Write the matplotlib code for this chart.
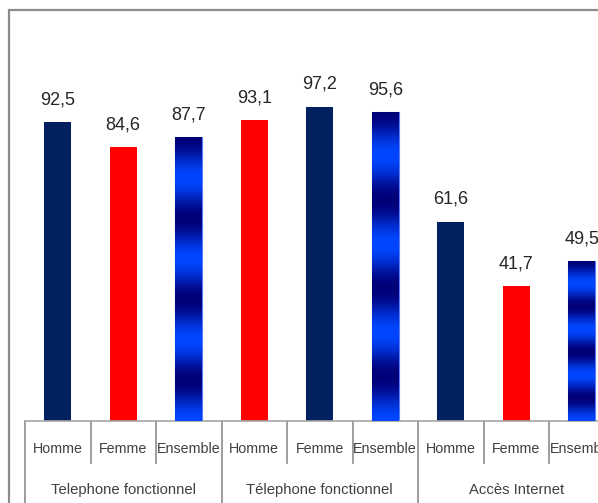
import numpy as np
import matplotlib

matplotlib.use("Agg")
import matplotlib.pyplot as plt
from matplotlib.colors import LinearSegmentedColormap
from matplotlib.patches import Rectangle
from matplotlib.transforms import blended_transform_factory

groups = ["Telephone fonctionnel", "Télephone fonctionnel", "Accès Internet"]
sexes = ["Homme", "Femme", "Ensemble"]
values = [92.5, 84.6, 87.7, 93.1, 97.2, 95.6, 61.6, 41.7, 49.5]
value_labels = ["92,5", "84,6", "87,7", "93,1", "97,2", "95,6", "61,6", "41,7", "49,5"]
bar_styles = ["navy", "red", "grad", "red", "navy", "grad", "navy", "red", "grad"]

NAVY = "#002060"
RED = "#ff0000"
FONT = ["Liberation Sans", "DejaVu Sans"]
stripe_cmap = LinearSegmentedColormap.from_list("stripe", ["#0046ff", "#000078"])

W, H = 598, 503
fig = plt.figure(figsize=(W / 100, H / 100), dpi=100)
fig.patch.set_facecolor("white")

# outer chart border (runs off the right and bottom edges)
fig.patches.append(Rectangle((9 / W, -0.2), 1.2, (H - 10) / H + 0.2,
                             transform=fig.transFigure, fill=False,
                             edgecolor="#8c8c8c", linewidth=1.6))

axis_y = 421
step = 65.5
ax = fig.add_axes([25 / W, (H - axis_y) / H, 9 * step / W, 388 / H])
ax.set_facecolor("none")
x = np.arange(len(values))
ax.set_xlim(-0.5, len(values) - 0.5)
ax.set_ylim(0, 120)

bar_w = 0.41
bars = ax.bar(x, values, width=bar_w, color=[NAVY if s == "navy" else RED for s in bar_styles],
              zorder=2)
for bar, style in zip(bars, bar_styles):
    if style != "grad":
        continue
    t = np.linspace(0, 1, 400)[:, None]  # 0 = bottom, 1 = top
    dark = (1 + np.cos(2 * np.pi * 3.5 * (1 - t))) / 2
    x0, h = bar.get_x(), bar.get_height()
    img = ax.imshow(dark, cmap=stripe_cmap, vmin=0, vmax=1, aspect="auto",
                    origin="lower", extent=(x0, x0 + bar_w, 0, h), zorder=3,
                    interpolation="bilinear")
    img.set_clip_path(bar)
    bar.set_edgecolor("#5b7cff")
    bar.set_linewidth(0.8)

for xi, v, lab in zip(x, values, value_labels):
    ax.annotate(lab, (xi, v), xytext=(0, 10), textcoords="offset points",
                ha="center", va="bottom", fontsize=13, color="#262626", family=FONT)

for s in ["top", "right", "left"]:
    ax.spines[s].set_visible(False)
ax.spines["bottom"].set_color("#a6a6a6")
ax.spines["bottom"].set_linewidth(1.2)
ax.set_yticks([])
ax.set_xticks([])

tr = blended_transform_factory(ax.transData, ax.transAxes)
sub_y = -28 / 388
grp_y = -69 / 388
for xi in x:
    ax.text(xi, sub_y, sexes[xi % 3], transform=tr, ha="center", va="center",
            fontsize=10.3, color="#404040", family=FONT)
for gi, g in enumerate(groups):
    ax.text(gi * 3 + 1, grp_y, g, transform=tr, ha="center", va="center",
            fontsize=10.7, color="#404040", family=FONT)

for k in range(len(values) + 1):
    xs = k - 0.5
    low = -0.3 if k % 3 == 0 else -42 / 388
    ax.plot([xs, xs], [0, low], transform=tr, color="#8c8c8c", linewidth=1.2,
            clip_on=False)

fig.savefig("out.png", dpi=100)
